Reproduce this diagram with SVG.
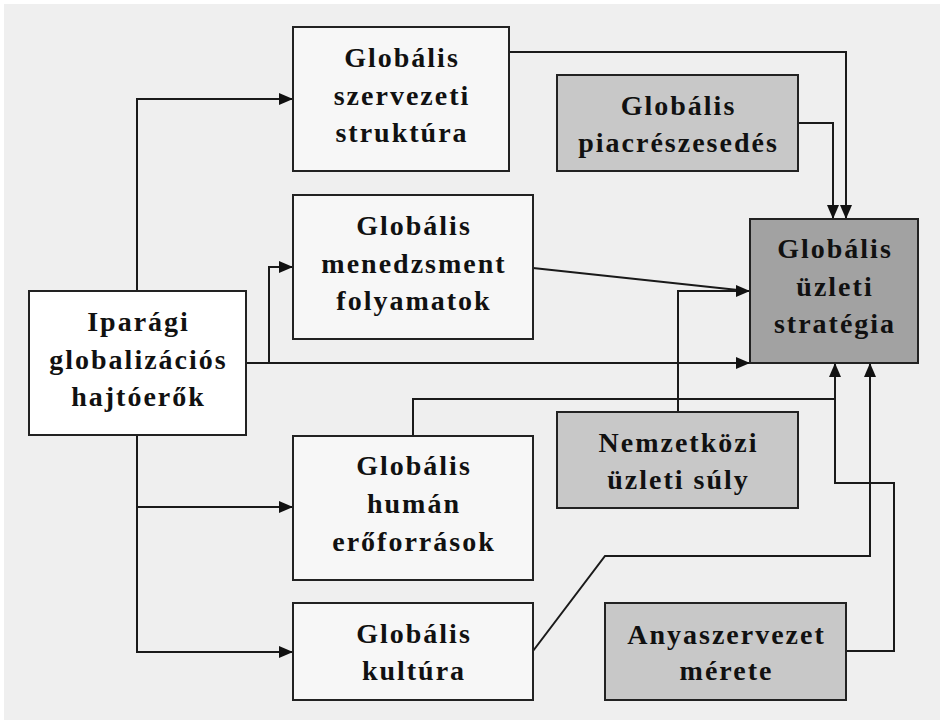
<svg xmlns="http://www.w3.org/2000/svg" width="943" height="720" viewBox="0 0 943 720">
<defs>
<style>
.box{stroke:#222;stroke-width:2}
.lt{fill:#f7f7f7}
.wh{fill:#ffffff}
.md{fill:#c8c8c8}
.dk{fill:#a2a2a2}
.t{font-family:"Liberation Serif","Times New Roman",serif;font-weight:bold;font-size:28px;letter-spacing:2px;fill:#111;text-anchor:middle}
.c{fill:none;stroke:#1a1a1a;stroke-width:2}
</style>
<marker id="ah" markerUnits="userSpaceOnUse" markerWidth="14" markerHeight="12" refX="14" refY="6" orient="auto" overflow="visible">
<path d="M0,0 L14,6 L0,12 Z" fill="#111"/>
</marker>
</defs>
<rect x="0" y="0" width="943" height="720" fill="#ffffff"/>
<rect x="4" y="4" width="936" height="716" fill="#efefef"/>
<g id="connectors">
<path class="c" d="M137,291 V99 H293" marker-end="url(#ah)"/>
<path class="c" d="M246,363 H750" marker-end="url(#ah)"/>
<path class="c" d="M269,363 V267 H293" marker-end="url(#ah)"/>
<path class="c" d="M137,435 V652 H293" marker-end="url(#ah)"/>
<path class="c" d="M137,507 H293" marker-end="url(#ah)"/>
<path class="c" d="M509,52 H846 V219" marker-end="url(#ah)"/>
<path class="c" d="M798,123 H833 V219" marker-end="url(#ah)"/>
<path class="c" d="M533,268 L738,290"/>
<path class="c" d="M678,412 V291 H750" marker-end="url(#ah)"/>
<path class="c" d="M413,436 V399 H835 V363" marker-end="url(#ah)"/>
<path class="c" d="M846,651 H894 V483 H835 V399"/>
<path class="c" d="M533,651 L605,556 H870 V363" marker-end="url(#ah)"/>
</g>
<g id="n-struktura">
<rect class="box lt" x="293" y="27" width="216" height="144"/>
<text class="t" x="402" y="67">Globális</text>
<text class="t" x="402" y="104.5">szervezeti</text>
<text class="t" x="402" y="142">struktúra</text>
</g>
<g id="n-menedzsment">
<rect class="box lt" x="293" y="195" width="240" height="144"/>
<text class="t" x="414" y="235">Globális</text>
<text class="t" x="414" y="272.5">menedzsment</text>
<text class="t" x="414" y="310">folyamatok</text>
</g>
<g id="n-iparagi">
<rect class="box wh" x="29" y="291" width="217" height="144"/>
<text class="t" x="138.5" y="331">Iparági</text>
<text class="t" x="138.5" y="368.5">globalizációs</text>
<text class="t" x="138.5" y="406">hajtóerők</text>
</g>
<g id="n-piac">
<rect class="box md" x="557" y="75" width="241" height="96"/>
<text class="t" x="678.5" y="115">Globális</text>
<text class="t" x="678.5" y="152">piacrészesedés</text>
</g>
<g id="n-strategia">
<rect class="box dk" x="750" y="219" width="168" height="144"/>
<text class="t" x="835" y="258">Globális</text>
<text class="t" x="835" y="296">üzleti</text>
<text class="t" x="835" y="333">stratégia</text>
</g>
<g id="n-nemzetkozi">
<rect class="box md" x="557" y="412" width="241" height="96"/>
<text class="t" x="678.5" y="452">Nemzetközi</text>
<text class="t" x="678.5" y="489">üzleti súly</text>
</g>
<g id="n-human">
<rect class="box lt" x="293" y="436" width="240" height="144"/>
<text class="t" x="414" y="475">Globális</text>
<text class="t" x="414" y="512.5">humán</text>
<text class="t" x="414" y="551">erőforrások</text>
</g>
<g id="n-kultura">
<rect class="box lt" x="293" y="603" width="240" height="97"/>
<text class="t" x="414" y="643">Globális</text>
<text class="t" x="414" y="680">kultúra</text>
</g>
<g id="n-anyaszervezet">
<rect class="box md" x="605" y="603" width="241" height="97"/>
<text class="t" x="726.5" y="644">Anyaszervezet</text>
<text class="t" x="726.5" y="680">mérete</text>
</g>
</svg>
